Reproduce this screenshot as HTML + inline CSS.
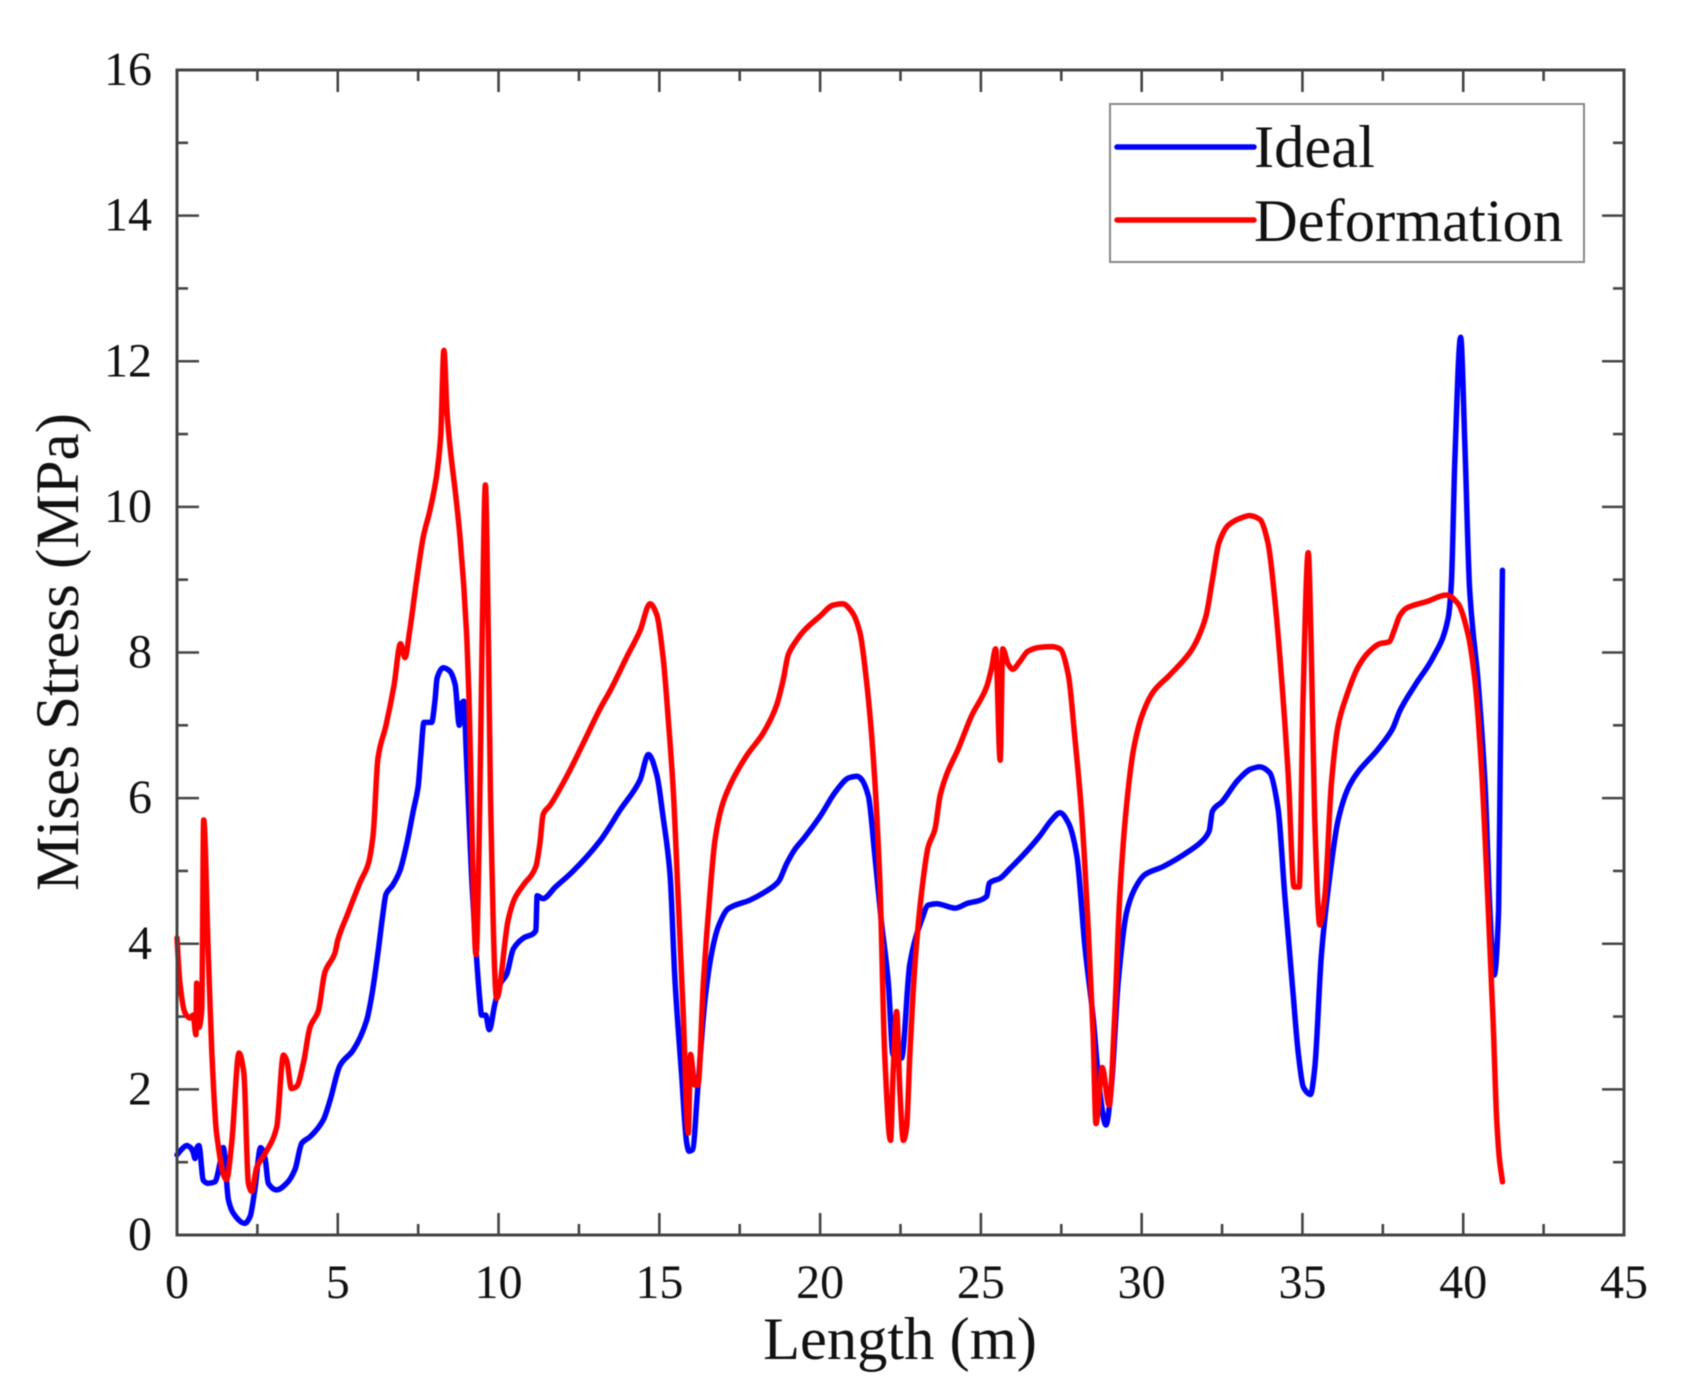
<!DOCTYPE html>
<html lang="en">
<head>
<meta charset="utf-8">
<title>Mises Stress vs Length</title>
<style>
  html, body { margin: 0; padding: 0; background: #fff; }
  #chart { display: block; width: 1681px; height: 1397px; filter: blur(0.6px); font-family: "Liberation Serif", serif; }
  text { fill: #111; }
</style>
</head>
<body>
<svg id="chart" xmlns="http://www.w3.org/2000/svg" width="1681" height="1397" viewBox="0 0 1681 1397">
  <rect x="0" y="0" width="1681" height="1397" fill="#fff"/>
  <g id="ticks"></g>
  <g id="tick-labels"></g>
  <g id="series"></g>
  <rect x="177" y="70" width="1447" height="1165" fill="none" stroke="#444" stroke-width="3"/>
  <text x="900" y="1359" font-size="60.5" text-anchor="middle">Length (m)</text>
  <text transform="translate(78 652) rotate(-90)" font-size="61" text-anchor="middle">Mises Stress (MPa)</text>
  <g>
    <rect x="1110" y="104" width="474" height="158" fill="#fff" stroke="#888" stroke-width="2"/>
    <line x1="1117" y1="147" x2="1254" y2="147" stroke="#0000ff" stroke-width="5.5" stroke-linecap="round"/>
    <text x="1254" y="167" font-size="60.5">Ideal</text>
    <line x1="1117" y1="220" x2="1254" y2="220" stroke="#ff0000" stroke-width="5.5" stroke-linecap="round"/>
    <text x="1254" y="241" font-size="60.5">Deformation</text>
  </g>
</svg>
<script>
const xTickValues = [0, 5, 10, 15, 20, 25, 30, 35, 40, 45];
const xMinorTickValues = [2.5, 7.5, 12.5, 17.5, 22.5, 27.5, 32.5, 37.5, 42.5];
const yTickValues = [0, 2, 4, 6, 8, 10, 12, 14, 16];
const yMinorTickValues = [1, 3, 5, 7, 9, 11, 13, 15];

const idealLength = [
  0, 0.15, 0.3, 0.42, 0.5, 0.56, 0.62, 0.68, 0.82, 0.97,
  1.18, 1.34, 1.44, 1.6, 1.75, 2.11, 2.27, 2.42, 2.6, 2.74,
  2.84, 3.1, 3.41, 3.67, 3.88, 4.14, 4.55, 4.76, 5.07, 5.48,
  5.9, 6.05, 6.26, 6.4, 6.5, 6.7, 6.93, 7.14, 7.35, 7.5,
  7.58, 7.68, 7.92, 8.02, 8.09, 8.28, 8.47, 8.65, 8.78, 8.85,
  8.92, 9.0, 9.16, 9.32, 9.42, 9.47, 9.6, 9.71, 9.88, 10.04,
  10.25, 10.46, 10.78, 11.16, 11.2, 11.38, 11.77, 12.3, 13.15, 13.8,
  14.4, 14.66, 14.92, 15.12, 15.33, 15.49, 15.69, 15.85, 15.92, 16.03,
  16.2, 16.42, 16.63, 16.83, 17.14, 17.82, 18.24, 18.7, 18.96, 19.22,
  19.5, 20, 20.5, 20.9, 21.15, 21.24, 21.5, 21.7, 21.9, 22.12,
  22.27, 22.53, 22.79, 23.16, 23.36, 23.62, 24.2, 24.55, 25.18, 25.26,
  25.6, 25.9, 26.32, 26.83, 27.2, 27.46, 27.72, 27.98, 28.24, 28.49,
  28.7, 28.89, 29.06, 29.27, 29.53, 29.78, 30.1, 30.67, 31.5, 31.9,
  32.1, 32.2, 32.5, 33, 33.4, 33.67, 33.98, 34.24, 34.45, 34.71,
  34.87, 35.03, 35.25, 35.38, 35.59, 35.85, 36.11, 36.47, 37.4, 37.8,
  38.03, 38.5, 39.07, 39.53, 39.63, 39.74, 39.92, 40.05, 40.2, 40.47,
  40.68, 40.83, 40.96, 41.1, 41.15, 41.22
];
const idealStress = [
  1.1, 1.18, 1.23, 1.2, 1.14, 1.05, 1.2, 1.23, 0.75, 0.71,
  0.73, 0.99, 1.2, 0.48, 0.3, 0.16, 0.25, 0.62, 1.2, 1.05,
  0.71, 0.62, 0.71, 0.9, 1.26, 1.35, 1.58, 1.85, 2.33, 2.54,
  2.95, 3.27, 3.91, 4.4, 4.68, 4.8, 5.0, 5.36, 5.83, 6.16,
  6.58, 7.04, 7.04, 7.33, 7.65, 7.79, 7.75, 7.56, 7.0, 7.3,
  7.33, 6.58, 4.94, 3.78, 3.21, 3.02, 3.02, 2.82, 3.16, 3.44,
  3.58, 3.93, 4.08, 4.18, 4.66, 4.62, 4.78, 4.99, 5.41, 5.85,
  6.25, 6.6, 6.32, 5.73, 4.97, 3.47, 2.22, 1.27, 1.15, 1.17,
  2.04, 3.23, 3.88, 4.23, 4.48, 4.6, 4.7, 4.85, 5.1, 5.3,
  5.45, 5.75, 6.1, 6.28, 6.3, 6.28, 6.03, 5.22, 4.33, 3.47,
  2.47, 2.43, 3.72, 4.33, 4.53, 4.55, 4.49, 4.55, 4.65, 4.83,
  4.9, 5.03, 5.22, 5.48, 5.7, 5.8, 5.66, 5.22, 3.94, 2.99,
  1.96, 1.51, 2.05, 3.47, 4.43, 4.75, 4.95, 5.06, 5.28, 5.42,
  5.55, 5.82, 5.95, 6.25, 6.4, 6.43, 6.35, 5.86, 4.67, 3.31,
  2.5, 2.03, 1.93, 2.28, 3.85, 4.93, 5.7, 6.18, 6.7, 6.95,
  7.2, 7.55, 7.94, 8.47, 8.94, 10.65, 12.33, 10.87, 8.86, 7.56,
  6.17, 4.46, 3.57, 4.46, 6.4, 9.13
];

const deformationLength = [
  0, 0.09, 0.25, 0.4, 0.5, 0.59, 0.61, 0.68, 0.77, 0.83,
  0.97, 1.08, 1.23, 1.54, 1.7, 1.93, 2.08, 2.22, 2.32, 2.48,
  2.74, 3.1, 3.31, 3.41, 3.56, 3.72, 3.93, 4.14, 4.39, 4.6,
  4.91, 5, 5.3, 5.7, 5.95, 6.1, 6.25, 6.5, 6.75, 6.95,
  7.09, 7.24, 7.45, 7.66, 7.87, 8.07, 8.2, 8.3, 8.4, 8.49,
  8.67, 8.8, 9.0, 9.07, 9.3, 9.4, 9.5, 9.59, 9.68, 9.75,
  9.94, 10.3, 10.5, 10.76, 11.16, 11.28, 11.39, 11.6, 12.11, 12.64,
  13.16, 13.5, 14, 14.4, 14.71, 14.92, 15.12, 15.28, 15.43, 15.59,
  15.74, 15.9, 15.97, 16.1, 16.2, 16.37, 16.58, 16.73, 16.94, 17.2,
  17.71, 18.24, 18.65, 18.85, 19.01, 19.27, 19.5, 20, 20.4, 20.7,
  21, 21.24, 21.44, 21.65, 21.86, 22.01, 22.19, 22.27, 22.38, 22.48,
  22.59, 22.69, 22.79, 22.95, 23.16, 23.36, 23.57, 23.73, 23.93, 24.29,
  24.71, 25.18, 25.33, 25.46, 25.6, 25.68, 25.85, 25.99, 26.2, 26.47,
  26.83, 27.2, 27.46, 27.72, 27.92, 28.13, 28.34, 28.49, 28.58, 28.77,
  28.99, 29.16, 29.32, 29.53, 29.74, 30, 30.36, 30.87, 31.5, 31.7,
  32, 32.2, 32.4, 32.7, 33.1, 33.35, 33.67, 33.93, 34.14, 34.35,
  34.56, 34.74, 34.9, 35.02, 35.18, 35.28, 35.38, 35.54, 35.7, 35.9,
  36.11, 36.37, 36.73, 37.05, 37.4, 37.7, 37.85, 38.03, 38.24, 38.87, 39.48,
  39.84, 40.15, 40.36, 40.57, 40.78, 40.93, 41.04, 41.12, 41.22
];
const deformationStress = [
  4.08, 3.46, 3.05, 2.98, 3.02, 2.75, 3.46, 2.85, 3.1, 5.7,
  3.9, 2.54, 1.4, 0.76, 1.26, 2.5, 2.22, 0.71, 0.6, 0.93,
  1.12, 1.48, 2.47, 2.4, 2.01, 2.04, 2.36, 2.86, 3.07, 3.61,
  3.87, 4.05, 4.4, 4.85, 5.1, 5.5, 6.55, 7, 7.55, 8.12,
  7.93, 8.31, 8.99, 9.59, 9.96, 10.42, 10.97, 12.15, 11.28, 10.83,
  10.15, 9.59, 8.31, 7.51, 3.85, 5.5, 8.5, 10.3, 8.3, 6,
  3.25, 4.33, 4.62, 4.8, 5.06, 5.36, 5.78, 5.9, 6.29, 6.76,
  7.23, 7.5, 7.95, 8.3, 8.67, 8.52, 7.92, 7.07, 6.13, 4.58,
  3.07, 1.4, 2.48, 2.06, 2.06, 3.47, 4.72, 5.42, 5.88, 6.18,
  6.58, 6.9, 7.28, 7.62, 7.97, 8.17, 8.3, 8.5, 8.65, 8.67,
  8.55, 8.27, 7.62, 6.58, 4.83, 2.47, 1.3, 2.22, 3.07, 1.98,
  1.3, 1.48, 2.47, 3.72, 4.72, 5.33, 5.57, 6.03, 6.32, 6.67,
  7.13, 7.53, 7.78, 8.05, 6.52, 8.05, 7.84, 7.77, 7.87, 8.02,
  8.07, 8.08, 8.05, 7.69, 6.84, 5.8, 4.19, 2.76, 1.53, 2.3,
  1.78, 3.0, 4.66, 5.9, 6.65, 7.12, 7.46, 7.69, 8.0, 8.15,
  8.5, 9, 9.5, 9.75, 9.85, 9.88, 9.83, 9.5, 8.73, 7.65,
  6.3, 4.78, 4.78, 7.37, 9.37, 7.93, 5.75, 4.26, 4.67, 6.2,
  7, 7.4, 7.8, 8.0, 8.12, 8.15, 8.3, 8.51, 8.61, 8.7, 8.79,
  8.67, 8.25, 7.63, 6.4, 4.46, 2.93, 1.6, 1.07, 0.73
];

const NS = 'http://www.w3.org/2000/svg';
const plotLeft = 177, plotRight = 1624, plotTop = 70, plotBottom = 1235;
const xMax = 45, yMax = 16;
function xScale(v) { return plotLeft + (v / xMax) * (plotRight - plotLeft); }
function yScale(v) { return plotBottom - (v / yMax) * (plotBottom - plotTop); }

const ticksGroup = document.getElementById('ticks');
const labelsGroup = document.getElementById('tick-labels');
const seriesGroup = document.getElementById('series');

function addTick(x1, y1, x2, y2, width, name) {
  const t = document.createElementNS(NS, 'line');
  t.setAttribute('x1', x1);
  t.setAttribute('y1', y1);
  t.setAttribute('x2', x2);
  t.setAttribute('y2', y2);
  t.setAttribute('stroke', '#444');
  t.setAttribute('stroke-width', width);
  
  
  ticksGroup.appendChild(t);
}
function addLabel(x, y, str, anchor, name) {
  const l = document.createElementNS(NS, 'text');
  l.setAttribute('x', x);
  l.setAttribute('y', y);
  l.setAttribute('font-size', '48');
  l.setAttribute('text-anchor', anchor);
  
  
  l.textContent = str;
  labelsGroup.appendChild(l);
}

xTickValues.forEach(function (v) {
  const x = xScale(v);
  addTick(x, plotBottom, x, plotBottom - 22, 2.6, 'x-major-tick');
  addTick(x, plotTop, x, plotTop + 22, 2.6, 'x-major-tick-top');
  addLabel(x, 1298, String(v), 'middle', 'x-tick-label');
});
xMinorTickValues.forEach(function (v) {
  const x = xScale(v);
  addTick(x, plotBottom, x, plotBottom - 11, 2.6, 'x-minor-tick');
  addTick(x, plotTop, x, plotTop + 11, 2.6, 'x-minor-tick-top');
});
yTickValues.forEach(function (v) {
  const y = yScale(v);
  addTick(plotLeft, y, plotLeft + 22, y, 2.6, 'y-major-tick');
  addTick(plotRight, y, plotRight - 22, y, 2.6, 'y-major-tick-right');
  addLabel(152, y + 15, String(v), 'end', 'y-tick-label');
});
yMinorTickValues.forEach(function (v) {
  const y = yScale(v);
  addTick(plotLeft, y, plotLeft + 11, y, 2.6, 'y-minor-tick');
  addTick(plotRight, y, plotRight - 11, y, 2.6, 'y-minor-tick-right');
});

// Monotone cubic path: smooth like the original curve, with no overshoot at spikes and dips.
function buildPath(xs, ys) {
  const n = Math.min(xs.length, ys.length);
  const px = [], py = [];
  for (let i = 0; i < n; i++) {
    px.push(xScale(xs[i]));
    py.push(yScale(ys[i]));
  }
  const slopes = [];
  for (let i = 0; i < n - 1; i++) {
    slopes.push((py[i + 1] - py[i]) / (px[i + 1] - px[i]));
  }
  const tangents = [slopes[0]];
  for (let i = 1; i < n - 1; i++) {
    if (slopes[i - 1] * slopes[i] <= 0) {
      tangents.push(0);
    } else {
      const h0 = px[i] - px[i - 1], h1 = px[i + 1] - px[i];
      const w0 = 2 * h1 + h0, w1 = h1 + 2 * h0;
      tangents.push((w0 + w1) / (w0 / slopes[i - 1] + w1 / slopes[i]));
    }
  }
  tangents.push(slopes[n - 2]);
  let d = 'M' + px[0].toFixed(2) + ' ' + py[0].toFixed(2);
  for (let i = 0; i < n - 1; i++) {
    const h = (px[i + 1] - px[i]) / 3;
    d += 'C' + (px[i] + h).toFixed(2) + ' ' + (py[i] + tangents[i] * h).toFixed(2) +
         ' ' + (px[i + 1] - h).toFixed(2) + ' ' + (py[i + 1] - tangents[i + 1] * h).toFixed(2) +
         ' ' + px[i + 1].toFixed(2) + ' ' + py[i + 1].toFixed(2);
  }
  return d;
}

const idealLine = document.createElementNS(NS, 'path');
idealLine.setAttribute('d', buildPath(idealLength, idealStress));
idealLine.setAttribute('fill', 'none');
idealLine.setAttribute('stroke', '#0000ff');
idealLine.setAttribute('stroke-width', '5.5');
idealLine.setAttribute('stroke-linejoin', 'round');
idealLine.setAttribute('stroke-linecap', 'round');


seriesGroup.appendChild(idealLine);

const deformationLine = document.createElementNS(NS, 'path');
deformationLine.setAttribute('d', buildPath(deformationLength, deformationStress));
deformationLine.setAttribute('fill', 'none');
deformationLine.setAttribute('stroke', '#ff0000');
deformationLine.setAttribute('stroke-width', '5.5');
deformationLine.setAttribute('stroke-linejoin', 'round');
deformationLine.setAttribute('stroke-linecap', 'round');


seriesGroup.appendChild(deformationLine);
</script>
</body>
</html>
